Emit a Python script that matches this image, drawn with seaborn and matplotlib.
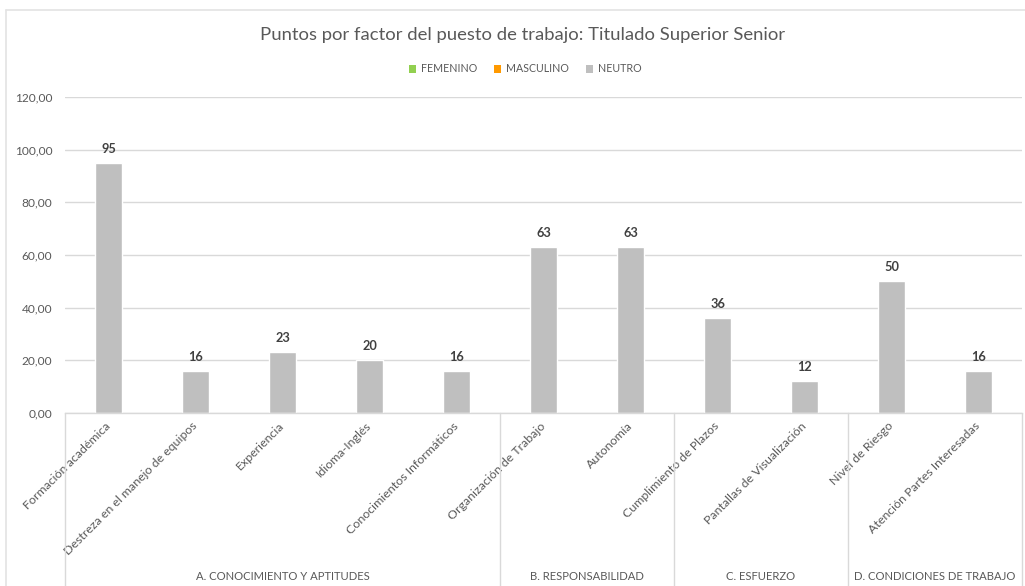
import matplotlib
matplotlib.use("Agg")
import matplotlib.pyplot as plt
from matplotlib.patches import Patch
from matplotlib.lines import Line2D
from matplotlib.transforms import blended_transform_factory
import seaborn as sns
import pandas as pd

# Job evaluation factors and their scores
factors = [
    "Formación académica",
    "Destreza en el manejo de equipos",
    "Experiencia",
    "Idioma-Inglés",
    "Conocimientos Informáticos",
    "Organización de Trabajo",
    "Autonomía",
    "Cumplimiento de Plazos",
    "Pantallas de Visualización",
    "Nivel de Riesgo",
    "Atención Partes Interesadas",
]
points = [95, 16, 23, 20, 16, 63, 63, 36, 12, 50, 16]
gender = ["NEUTRO"] * len(factors)

groups = [
    "A. CONOCIMIENTO Y APTITUDES",
    "B. RESPONSABILIDAD",
    "C. ESFUERZO",
    "D. CONDICIONES DE TRABAJO",
]
group_sizes = [5, 2, 2, 2]

legend_labels = ["FEMENINO", "MASCULINO", "NEUTRO"]
legend_colors = ["#92d050", "#ff9900", "#bfbfbf"]
yticks = [0, 20, 40, 60, 80, 100, 120]

sns.set_theme(style="white")
plt.rcParams["font.family"] = ["Lato", "DejaVu Sans"]

text_gray = "#595959"
grid_gray = "#d9d9d9"

df = pd.DataFrame({"factor": factors, "points": points, "gender": gender})
palette = dict(zip(legend_labels, legend_colors))

W, H = 1025, 586
fig = plt.figure(figsize=(W / 100, H / 100), dpi=100)
ax = fig.add_axes([65 / W, 1 - 413 / H, (1022 - 65) / W, (413 - 97) / H])

sns.barplot(data=df, x="factor", y="points", hue="gender", palette=palette,
            dodge=False, width=0.32, legend=False, ax=ax, saturation=1)

ax.set_ylim(0, 120)
ax.set_xlim(-0.5, len(factors) - 0.5)
ax.set_yticks(yticks)
ax.set_yticklabels([f"{v:.2f}".replace(".", ",") for v in yticks],
                   fontsize=8.6, color=text_gray)
ax.tick_params(axis="y", length=0, pad=9)
ax.tick_params(axis="x", length=0, pad=8)
ax.set_xlabel("")
ax.set_ylabel("")
ax.yaxis.grid(True, color=grid_gray, linewidth=1)
ax.set_axisbelow(True)
for side in ["top", "right", "left"]:
    ax.spines[side].set_visible(False)
ax.spines["bottom"].set_color(grid_gray)
ax.spines["bottom"].set_linewidth(1)

ax.set_xticks(range(len(factors)))
ax.set_xticklabels(factors, rotation=45, ha="right", va="center",
                   rotation_mode="anchor", fontsize=8.9, color=text_gray)

# Value labels above bars
for i, v in enumerate(points):
    ax.annotate(f"{v:.0f}", (i, v), xytext=(0, 6), textcoords="offset points",
                ha="center", va="bottom", fontsize=9.2, fontweight="bold",
                color="#404040")

# Group separators and group names
trans = blended_transform_factory(ax.transData, ax.transAxes)
bottom = -0.56
edges = [-0.5]
for n in group_sizes:
    edges.append(edges[-1] + n)
for x in edges:
    ax.plot([x, x], [0, bottom], transform=trans, color=grid_gray,
            linewidth=1, clip_on=False)
for name, a, b in zip(groups, edges[:-1], edges[1:]):
    ax.text((a + b) / 2, (413 - 577) / (413 - 97), name, transform=trans,
            ha="center", va="center", fontsize=8.1, color=text_gray)

# Chart area border
fig.add_artist(Line2D([6 / W, 1.0], [1 - 10 / H, 1 - 10 / H],
                      color="#e3e3e3", linewidth=1.2, transform=fig.transFigure))
fig.add_artist(Line2D([6 / W, 6 / W], [0, 1 - 10 / H],
                      color="#e3e3e3", linewidth=1.2, transform=fig.transFigure))

fig.text(523 / W, 1 - 35 / H,
         "Puntos por factor del puesto de trabajo: Titulado Superior Senior",
         ha="center", va="center", fontsize=13.3, color=text_gray)

handles = [Patch(facecolor=c, edgecolor="none") for c in legend_colors]
fig.legend(handles, legend_labels, loc="center", bbox_to_anchor=(525 / W, 1 - 69 / H),
           ncol=3, frameon=False, fontsize=7.7, labelcolor=text_gray,
           handlelength=0.7, handleheight=0.7, handletextpad=0.4, columnspacing=1.6)

fig.savefig("out.png", dpi=100)
